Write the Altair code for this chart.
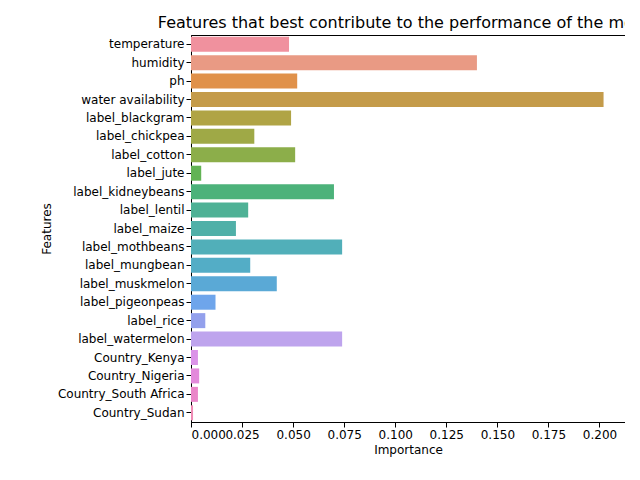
import altair as alt
import pandas as pd

features = ["temperature", "humidity", "ph", "water availability", "label_blackgram",
            "label_chickpea", "label_cotton", "label_jute", "label_kidneybeans", "label_lentil",
            "label_maize", "label_mothbeans", "label_mungbean", "label_muskmelon",
            "label_pigeonpeas", "label_rice", "label_watermelon", "Country_Kenya",
            "Country_Nigeria", "Country_South Africa", "Country_Sudan"]
importance = [0.048, 0.140, 0.052, 0.202, 0.049, 0.031, 0.051, 0.005, 0.070, 0.028,
              0.022, 0.074, 0.029, 0.042, 0.012, 0.007, 0.074, 0.0034, 0.004, 0.0034, 0.001]
colors = ["#f0919e", "#e99a84", "#e0914a", "#c49b4a", "#b0a445", "#9fa946", "#8cae4a",
          "#62b354", "#4cb27a", "#4eb195", "#50b0a8", "#51afb9", "#53adc6", "#5aa9d6",
          "#6ea5eb", "#93a0ec", "#bea4ed", "#db93e8", "#e38adb", "#ea86c9", "#ef8bb5"]

df = pd.DataFrame({"Features": features, "Importance": importance})

chart = alt.Chart(df).mark_bar(size=15).encode(
    y=alt.Y("Features:N", sort=features, axis=alt.Axis(title="Features")),
    x=alt.X("Importance:Q", scale=alt.Scale(domain=[0, 0.2125], nice=False),
            axis=alt.Axis(values=[0, 0.025, 0.05, 0.075, 0.1, 0.125, 0.15, 0.175, 0.2],
                          format=".3f", title="Importance", grid=False, labelOverlap=False)),
    color=alt.Color("Features:N", sort=features,
                    scale=alt.Scale(domain=features, range=colors), legend=None),
).properties(
    width=434, height=387,
    title=alt.Title("Features that best contribute to the performance of the model",
                    fontSize=16, fontWeight="normal", anchor="middle"),
    autosize="none",
    padding={"left": 183, "top": 27, "right": 0, "bottom": 50},
).configure_axis(
    labelFont="DejaVu Sans", titleFont="DejaVu Sans", labelFontSize=12, titleFontSize=12,
    titleFontWeight="normal", labelColor="black", titleColor="black", domainColor="black",
    tickColor="black",
).configure_title(font="DejaVu Sans", color="black").configure_view(stroke="black")

chart.save("out.html", embed_options={"renderer": "svg", "actions": False})
